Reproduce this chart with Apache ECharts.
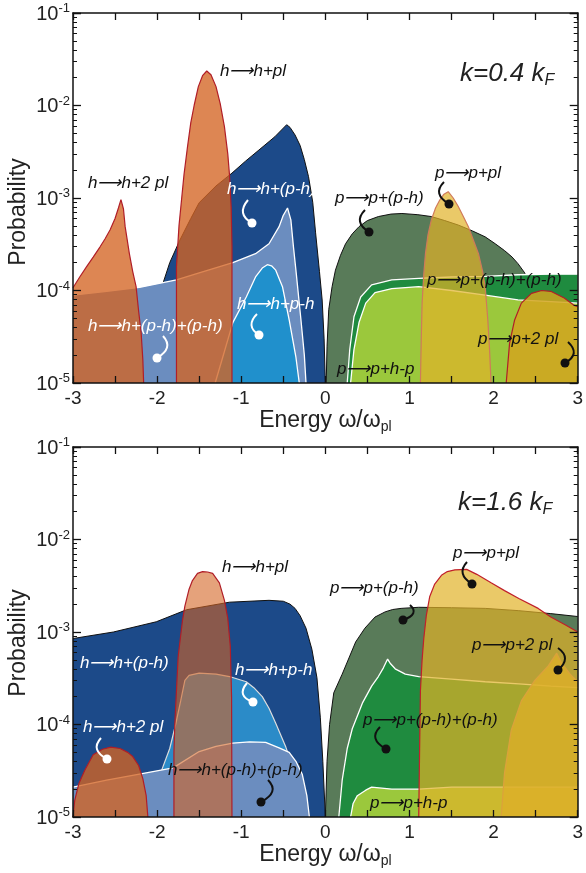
<!DOCTYPE html>
<html><head><meta charset="utf-8">
<script src="https://cdn.jsdelivr.net/npm/echarts@6/dist/echarts.min.js"></script>
<style>html,body{margin:0;padding:0;background:#fff}#c{width:586px;height:873px}</style>
</head><body><div id="c"></div>
<script>
// ---------- axis settings ----------
const xMin = -3, xMax = 3, xStep = 0.5;
const yMin = 1e-5, yMax = 1e-1;

// ---------- top panel: k = 0.4 kF ----------
const top_hh_ph = [[-1.97,1e-5],[-1.95,5e-5],[-1.93,1.2e-4],[-1.85,2e-4],[-1.73,3.5e-4],[-1.6,6e-4],[-1.5,8.9e-4],[-1.3,1.35e-3],[-1.11,1.86e-3],[-0.95,2.5e-3],[-0.79,3.3e-3],[-0.6,4.6e-3],[-0.46,6.2e-3],[-0.42,5.8e-3],[-0.36,4.8e-3],[-0.3,3.7e-3],[-0.25,2.6e-3],[-0.2,1.7e-3],[-0.15,9e-4],[-0.116,4.2e-4],[-0.07,1.6e-4],[-0.038,7.9e-5],[-0.015,3e-5],[0,1e-5]];
const top_hh_phph = [[-3,8.9e-5],[-2.6,9.8e-5],[-2.21,1.08e-4],[-1.77,1.3e-4],[-1.5,1.55e-4],[-1.1,2.0e-4],[-0.83,2.5e-4],[-0.67,3.2e-4],[-0.55,4.9e-4],[-0.5,6.5e-4],[-0.45,7.8e-4],[-0.41,5.8e-4],[-0.38,3e-4],[-0.35,1.66e-4],[-0.29,4.8e-5],[-0.25,2e-5],[-0.23,1e-5]];
const top_hh_p_h = [[-1.31,1e-5],[-1.22,1.9e-5],[-1.10,4.5e-5],[-0.94,8.5e-5],[-0.83,1.4e-4],[-0.75,1.75e-4],[-0.69,1.9e-4],[-0.64,1.85e-4],[-0.59,1.66e-4],[-0.51,1.1e-4],[-0.43,4.8e-5],[-0.35,1.9e-5],[-0.31,1e-5]];
const top_hh_pl = [[-1.77,1e-5],[-1.77,1.8e-4],[-1.74,5e-4],[-1.71,9.5e-4],[-1.68,1.8e-3],[-1.64,3.5e-3],[-1.60,6.5e-3],[-1.56,1.0e-2],[-1.51,1.6e-2],[-1.46,2.1e-2],[-1.41,2.36e-2],[-1.36,2.15e-2],[-1.30,1.6e-2],[-1.25,1.05e-2],[-1.20,5.9e-3],[-1.16,3.0e-3],[-1.14,1.8e-3],[-1.12,8e-4],[-1.11,3e-4],[-1.11,1e-5]];
const top_hh_2pl = [[-3,1.07e-4],[-2.92,1.4e-4],[-2.84,1.8e-4],[-2.76,2.3e-4],[-2.68,2.95e-4],[-2.62,3.6e-4],[-2.56,4.5e-4],[-2.50,6e-4],[-2.46,7.8e-4],[-2.43,9.6e-4],[-2.415,1.0e-3],[-2.40,7.6e-4],[-2.38,4.9e-4],[-2.33,2.5e-4],[-2.29,1.6e-4],[-2.25,1.1e-4],[-2.22,6e-5],[-2.19,3.5e-5],[-2.17,1.8e-5],[-2.16,1e-5]];
const top_pp_ph = [[0.01,1e-5],[0.02,2.5e-5],[0.04,6.2e-5],[0.08,1.1e-4],[0.12,1.66e-4],[0.18,2.4e-4],[0.24,3.2e-4],[0.32,4.1e-4],[0.40,4.9e-4],[0.5,5.7e-4],[0.63,6.3e-4],[0.78,6.7e-4],[0.91,6.8e-4],[1.1,6.6e-4],[1.26,6.3e-4],[1.42,5.7e-4],[1.58,5.1e-4],[1.75,4.4e-4],[1.90,3.8e-4],[2.02,3.2e-4],[2.13,2.7e-4],[2.22,2.3e-4],[2.29,1.95e-4],[2.37,1.55e-4],[2.45,9e-5],[2.5,1e-5]];
const top_pp_phph = [[0.26,1e-5],[0.29,2.3e-5],[0.34,5.2e-5],[0.42,8.5e-5],[0.55,1.15e-4],[0.79,1.3e-4],[1.11,1.35e-4],[1.5,1.4e-4],[1.9,1.42e-4],[2.29,1.48e-4],[2.68,1.5e-4],[3,1.5e-4]];
const top_pp_h_p = [[0.30,1e-5],[0.34,2.3e-5],[0.40,4.5e-5],[0.48,7.3e-5],[0.59,9.5e-5],[0.79,1.05e-4],[1.11,1.1e-4],[1.5,1.0e-4],[1.9,8.9e-5],[2.29,7.9e-5],[2.68,7.6e-5],[3,7.3e-5]];
const top_pp_pl = [[1.13,1e-5],[1.14,3e-5],[1.15,7.3e-5],[1.17,1.5e-4],[1.19,2.5e-4],[1.22,4e-4],[1.26,5.8e-4],[1.31,7.8e-4],[1.36,9.5e-4],[1.41,1.1e-3],[1.46,1.17e-3],[1.52,1e-3],[1.58,8.1e-4],[1.64,6.3e-4],[1.70,4.9e-4],[1.76,3.5e-4],[1.82,2.5e-4],[1.87,1.6e-4],[1.90,1.1e-4],[1.93,5e-5],[1.95,2.5e-5],[1.97,1e-5]];
const top_pp_2pl = [[2.15,1e-5],[2.19,2.7e-5],[2.25,4.8e-5],[2.33,7.3e-5],[2.45,9.3e-5],[2.57,1.0e-4],[2.68,9.8e-5],[2.84,8.3e-5],[2.96,6.9e-5],[3,6.7e-5]];

// ---------- bottom panel: k = 1.6 kF ----------
const bot_hh_ph = [[-3,8.5e-4],[-2.52,1.0e-3],[-2.01,1.29e-3],[-1.65,1.74e-3],[-1.14,2.1e-3],[-0.67,2.2e-3],[-0.5,2.15e-3],[-0.42,2.0e-3],[-0.36,1.8e-3],[-0.3,1.5e-3],[-0.23,1.1e-3],[-0.16,6.5e-4],[-0.1,3.2e-4],[-0.06,1.2e-4],[-0.03,4e-5],[0,1e-5]];
const bot_hh_p_h = [[-2.02,1e-5],[-1.97,2.8e-5],[-1.85,5.5e-5],[-1.78,1e-4],[-1.72,1.8e-4],[-1.67,3e-4],[-1.62,3.4e-4],[-1.5,3.6e-4],[-1.3,3.5e-4],[-1.14,3.3e-4],[-0.94,2.9e-4],[-0.85,2.5e-4],[-0.75,2.0e-4],[-0.67,1.5e-4],[-0.59,1.03e-4],[-0.47,5.7e-5],[-0.43,4.5e-5],[-0.35,2e-5],[-0.3,1e-5]];
const bot_hh_phph = [[-3,2.1e-5],[-2.6,2.5e-5],[-2.13,3e-5],[-1.81,3.4e-5],[-1.5,5.1e-5],[-1.3,5.8e-5],[-1.1,6.3e-5],[-0.9,6.5e-5],[-0.71,6.4e-5],[-0.55,5.6e-5],[-0.43,5e-5],[-0.35,4e-5],[-0.275,2.9e-5],[-0.22,1.7e-5],[-0.19,1e-5]];
const bot_hh_pl = [[-1.80,1e-5],[-1.80,5e-5],[-1.79,1e-4],[-1.75,5.4e-4],[-1.70,1.3e-3],[-1.67,1.9e-3],[-1.62,2.9e-3],[-1.58,3.6e-3],[-1.52,4.3e-3],[-1.46,4.5e-3],[-1.40,4.45e-3],[-1.34,4.3e-3],[-1.26,3.4e-3],[-1.20,2.2e-3],[-1.16,1.4e-3],[-1.13,7e-4],[-1.115,2e-4],[-1.11,1e-5]];
const bot_hh_2pl = [[-3,1e-5],[-2.98,1.5e-5],[-2.93,2.3e-5],[-2.86,3.2e-5],[-2.76,4.7e-5],[-2.65,5.4e-5],[-2.55,5.7e-5],[-2.44,5.5e-5],[-2.35,5e-5],[-2.29,4.5e-5],[-2.22,3.6e-5],[-2.17,2.6e-5],[-2.13,1.7e-5],[-2.11,1e-5]];
const bot_pp_ph = [[0,1e-5],[0.02,4e-5],[0.05,1e-4],[0.1,2.2e-4],[0.2,3.5e-4],[0.36,7.8e-4],[0.47,1.1e-3],[0.59,1.45e-3],[0.71,1.65e-3],[0.8,1.75e-3],[0.9,1.8e-3],[1.11,1.85e-3],[1.5,1.83e-3],[1.9,1.8e-3],[2.3,1.7e-3],[2.68,1.58e-3],[3,1.47e-3]];
const bot_pp_phph = [[0.16,1e-5],[0.2,2.5e-5],[0.26,5.5e-5],[0.32,9e-5],[0.44,1.7e-4],[0.55,2.6e-4],[0.63,3.3e-4],[0.69,4.1e-4],[0.74,5.1e-4],[0.77,4.6e-4],[0.83,4.0e-4],[0.95,3.5e-4],[1.11,3.3e-4],[1.5,3.1e-4],[1.9,2.9e-4],[2.3,2.75e-4],[2.68,2.6e-4],[3,2.5e-4]];
const bot_pp_h_p = [[0.30,1e-5],[0.33,1.4e-5],[0.38,1.7e-5],[0.48,1.95e-5],[0.55,2.1e-5],[0.79,2.0e-5],[1.11,2.0e-5],[1.5,2.1e-5],[1.9,2.1e-5],[2.3,2.1e-5],[2.68,2.1e-5],[3,2.1e-5]];
const bot_pp_2pl = [[2.09,1e-5],[2.13,3e-5],[2.21,8.7e-5],[2.33,1.8e-4],[2.49,3e-4],[2.65,4.3e-4],[2.75,5.9e-4],[2.81,4.6e-4],[2.91,3.5e-4],[3,2.9e-4]];
const bot_pp_pl = [[1.11,1e-5],[1.12,5e-5],[1.13,2.3e-4],[1.15,5e-4],[1.17,8.5e-4],[1.2,1.5e-3],[1.24,2.4e-3],[1.3,3.3e-3],[1.38,4.1e-3],[1.45,4.5e-3],[1.54,4.7e-3],[1.68,4.75e-3],[1.8,4.2e-3],[1.97,3.4e-3],[2.13,2.8e-3],[2.3,2.3e-3],[2.53,1.8e-3],[2.68,1.45e-3],[2.85,1.2e-3],[3,1.0e-3]];

// ---------- styles ----------
const FONT = '"Liberation Sans", Arial, sans-serif';
const C = {
  darkBlue: '#1c4a89', lightBlue: '#6b8dbf', brightBlueT: '#2090cc', brightBlueB: '#2b8bc8',
  orange: 'rgba(212,100,35,0.78)', orangeL: 'rgba(212,100,35,0.6)', red: '#b01e28',
  darkGreen: '#597b59', green: '#1f8b3f', lightGreen: '#9bc83c',
  yellow: 'rgba(225,178,40,0.7)', yellow2: 'rgba(210,165,30,0.85)'
};

let zc = 2;
function area(data, g, fill, stroke, lw) {
  return {
    type: 'line', data: data, xAxisIndex: g * 2, yAxisIndex: g * 2, z: zc++,
    showSymbol: false, symbol: 'none', smooth: false, silent: true, animation: false,
    lineStyle: { color: stroke, width: lw },
    areaStyle: { color: fill, opacity: 1, origin: 'start' }
  };
}

const series = [
  area(top_hh_ph, 0, C.darkBlue, '#111', 1),
  area(top_hh_phph, 0, C.lightBlue, '#fff', 1.3),
  area(top_hh_p_h, 0, C.brightBlueT, '#fff', 1.3),
  area(top_hh_2pl, 0, C.orange, C.red, 1.2),
  area(top_hh_pl, 0, C.orange, C.red, 1.2),
  area(top_pp_ph, 0, C.darkGreen, '#111', 1),
  area(top_pp_phph, 0, C.green, '#fff', 1.3),
  area(top_pp_h_p, 0, C.lightGreen, '#fff', 1.3),
  area(top_pp_pl, 0, C.yellow, '#d07a5a', 1.2),
  area(top_pp_2pl, 0, C.yellow2, C.red, 1.2),

  area(bot_hh_ph, 1, C.darkBlue, '#111', 1),
  area(bot_hh_p_h, 1, C.brightBlueB, '#ddd', 1.2),
  area(bot_hh_phph, 1, C.lightBlue, '#fff', 1.3),
  area(bot_hh_2pl, 1, C.orange, C.red, 1.2),
  area(bot_hh_pl, 1, C.orangeL, C.red, 1.2),
  area(bot_pp_ph, 1, C.darkGreen, '#111', 1),
  area(bot_pp_phph, 1, C.green, '#fff', 1.3),
  area(bot_pp_h_p, 1, C.lightGreen, '#fff', 1.3),
  area(bot_pp_2pl, 1, 'rgba(212,168,40,0.8)', '#d07a6a', 1.2),
  area(bot_pp_pl, 1, C.yellow, '#c0202a', 1.2)
];

const grids = [
  { left: 73, top: 13, width: 507, height: 370 },
  { left: 73, top: 447, width: 507, height: 370 }
];

function xAx(g, pos) {
  const main = pos === 'bottom';
  return {
    type: 'value', gridIndex: g, position: pos, min: xMin, max: xMax, interval: xStep, z: 60,
    axisLine: { show: true, onZero: false, lineStyle: { color: '#111', width: 1.5 } },
    axisTick: { show: true, inside: true, length: 7, lineStyle: { color: '#111', width: 1.3 } },
    splitLine: { show: false },
    axisLabel: {
      show: main, margin: 6, color: '#222', fontSize: 19, fontFamily: FONT,
      formatter: v => Number.isInteger(v) ? (v < 0 ? '-' + Math.abs(v) : String(v)) : ''
    },
    name: main ? '{a|Energy ω/ω}{s|pl}' : '', nameLocation: 'middle', nameGap: 20,
    nameTextStyle: { rich: {
      a: { fontSize: 23, fontFamily: FONT, color: '#222', lineHeight: 28 },
      s: { fontSize: 14, fontFamily: FONT, color: '#222', verticalAlign: 'bottom', lineHeight: 14 }
    } }
  };
}
function yAx(g, pos) {
  const main = pos === 'left';
  return {
    type: 'log', logBase: 10, gridIndex: g, position: pos, min: yMin, max: yMax, z: 60,
    axisLine: { show: true, onZero: false, lineStyle: { color: '#111', width: 1.5 } },
    axisTick: { show: true, inside: true, length: 8, lineStyle: { color: '#111', width: 1.3 } },
    minorTick: { show: true, splitNumber: 9, length: 4, lineStyle: { color: '#111', width: 1 } },
    splitLine: { show: false }, minorSplitLine: { show: false },
    axisLabel: {
      show: main, margin: 3, fontFamily: FONT,
      formatter: v => '{b|10}{s|' + Math.round(Math.log10(v)) + '}',
      rich: {
        b: { fontSize: 20, fontFamily: FONT, color: '#222', lineHeight: 22, verticalAlign: 'bottom' },
        s: { fontSize: 13, fontFamily: FONT, color: '#222', lineHeight: 22, verticalAlign: 'top', padding: [0, 0, 8, 0] }
      }
    }
  };
}

// ---------- annotations ----------
const labelFont = 'italic 17px ' + FONT;
const notes = [
  ['h⟶h+pl', 220, 71, '#111'], ['h⟶h+2 pl', 88, 183, '#111'], ['h⟶h+(p-h)', 227, 189, '#fff'],
  ['h⟶h+p-h', 237, 304, '#fff'], ['h⟶h+(p-h)+(p-h)', 88, 326, '#fff'],
  ['p⟶p+(p-h)', 335, 198, '#111'], ['p⟶p+pl', 435, 173, '#111'],
  ['p⟶p+(p-h)+(p-h)', 427, 280, '#111'], ['p⟶p+2 pl', 478, 339, '#111'], ['p⟶p+h-p', 337, 369, '#111'],
  ['h⟶h+pl', 222, 567, '#111'], ['h⟶h+(p-h)', 80, 663, '#fff'], ['h⟶h+p-h', 235, 670, '#fff'],
  ['h⟶h+2 pl', 83, 727, '#fff'], ['h⟶h+(p-h)+(p-h)', 168, 770, '#111'],
  ['p⟶p+(p-h)', 330, 588, '#111'], ['p⟶p+pl', 453, 553, '#111'], ['p⟶p+2 pl', 472, 645, '#111'],
  ['p⟶p+(p-h)+(p-h)', 363, 720, '#111'], ['p⟶p+h-p', 370, 803, '#111']
];
// leader hooks: start x,y ; control x,y ; dot x,y ; colour
const hooks = [
  [248,200, 236,214, 252,223, '#fff'], [257,314, 245,326, 259,335, '#fff'], [163,336, 174,348, 157,358, '#fff'],
  [365,210, 353,222, 369,232, '#111'], [444,182, 432,194, 449,204, '#111'], [568,342, 581,354, 565,363, '#111'],
  [247,683, 236,696, 253,702, '#fff'], [101,738, 90,750, 107,759, '#fff'], [268,780, 280,792, 261,802, '#111'],
  [410,605, 420,614, 403,620, '#111'], [467,562, 456,574, 472,584, '#111'], [558,648, 572,658, 558,670, '#111'],
  [380,727, 368,739, 386,749, '#111']
];

const graphic = [];
notes.forEach(n => graphic.push({ type: 'text', x: n[1], y: n[2], z: 100, silent: true,
  style: { text: n[0], fill: n[3], font: labelFont, verticalAlign: 'middle' } }));
hooks.forEach(h => {
  graphic.push({ type: 'bezierCurve', z: 100, silent: true,
    shape: { x1: h[0], y1: h[1], cpx1: h[2], cpy1: h[3], x2: h[4], y2: h[5] },
    style: { stroke: h[6], lineWidth: 2, fill: null } });
  graphic.push({ type: 'circle', z: 100, silent: true, shape: { cx: h[4], cy: h[5], r: 4.5 }, style: { fill: h[6] } });
});
[['0.4', 460, 74], ['1.6', 458, 503]].forEach(k => graphic.push({ type: 'text', x: k[1], y: k[2], z: 100, silent: true,
  style: { text: '{a|k=' + k[0] + ' k}{s|F}', verticalAlign: 'middle',
    rich: { a: { fontSize: 26, fontStyle: 'italic', fontFamily: FONT, fill: '#222', lineHeight: 30 },
            s: { fontSize: 16, fontStyle: 'italic', fontFamily: FONT, fill: '#222', lineHeight: 30, verticalAlign: 'bottom', padding: [12, 0, 0, 0] } } } }));
[212, 643].forEach(cy => graphic.push({ type: 'text', x: 19, y: cy, rotation: Math.PI / 2, z: 100, silent: true,
  style: { text: 'Probability', font: '23px ' + FONT, fill: '#222', align: 'center', verticalAlign: 'middle' } }));

const chart = echarts.init(document.getElementById('c'), null, { renderer: 'canvas' });
chart.setOption({
  animation: false,
  backgroundColor: '#fff',
  grid: grids,
  xAxis: [xAx(0, 'bottom'), xAx(0, 'top'), xAx(1, 'bottom'), xAx(1, 'top')],
  yAxis: [yAx(0, 'left'), yAx(0, 'right'), yAx(1, 'left'), yAx(1, 'right')],
  series: series,
  graphic: graphic
});
</script></body></html>
